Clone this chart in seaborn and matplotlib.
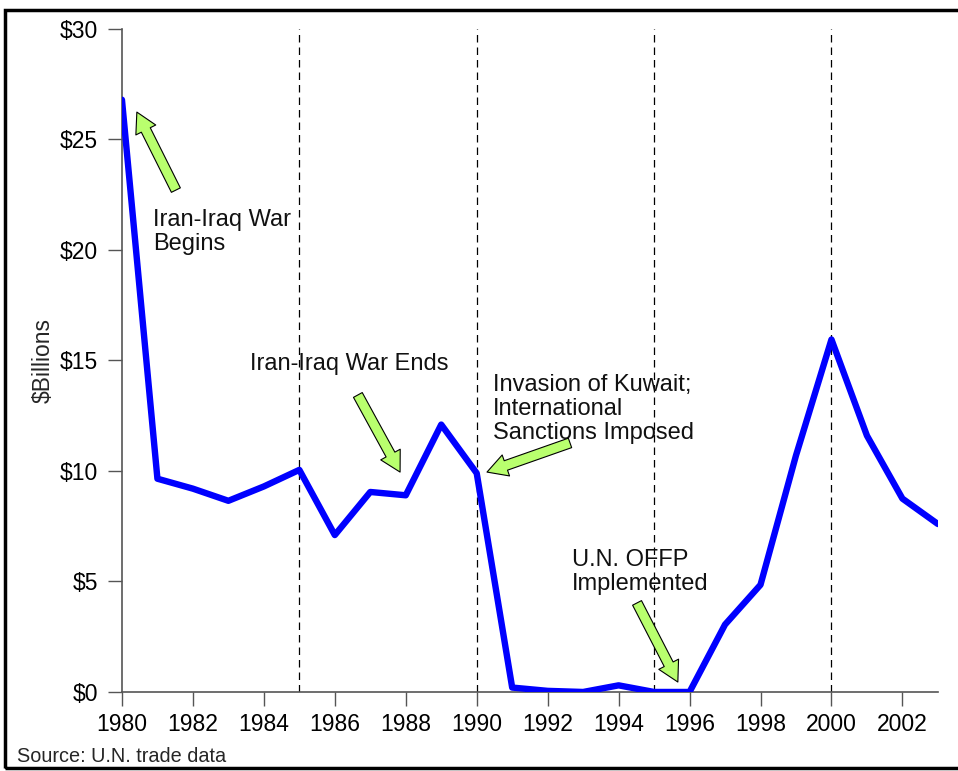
import numpy as np
import pandas as pd
import matplotlib
matplotlib.use("Agg")
import matplotlib.pyplot as plt
from matplotlib.patches import Rectangle
import seaborn as sns

# values ($ billions)
years = list(range(1980, 2004))
values = [26.8, 9.65, 9.2, 8.65, 9.3, 10.05, 7.1, 9.05, 8.9, 12.1, 9.9,
          0.2, 0.05, 0.0, 0.3, 0.0, 0.0, 3.05, 4.85, 10.7, 15.95, 11.6, 8.75, 7.6]
event_years = [1985, 1990, 1995, 2000]
year_ticks = list(range(1980, 2004, 2))
dollar_ticks = [0, 5, 10, 15, 20, 25, 30]

df = pd.DataFrame({"year": years, "value": values})

sns.set_style("white")
plt.rcParams["font.family"] = ["Liberation Sans", "DejaVu Sans"]

fig = plt.figure(figsize=(9.58, 7.71), dpi=100)
ax = fig.add_axes([0.1273, 0.1025, 0.979 - 0.1273, 0.9624 - 0.1025])

for yr in event_years:
    ax.axvline(yr, color="black", lw=0.9, ls=(0, (6, 4)), zorder=1)

sns.lineplot(data=df, x="year", y="value", color="#0000FF", lw=4.6, ax=ax, zorder=3)

ax.set_xlim(1980, 2003)
ax.set_ylim(0, 30)
ax.set_xticks(year_ticks)
ax.set_xticklabels([str(y) for y in year_ticks])
ax.set_yticks(dollar_ticks)
ax.set_yticklabels(["$%d" % v for v in dollar_ticks])
ax.tick_params(axis="both", labelsize=16.5, labelcolor="black", color="#555555",
               direction="out", length=10, width=1, bottom=True, left=True)
ax.tick_params(axis="x", pad=5)
ax.tick_params(axis="y", pad=7)
ax.set_xlabel("")
ax.set_ylabel("$Billions", fontsize=16.5, labelpad=4)

for s in ["top", "right"]:
    ax.spines[s].set_visible(False)
for s in ["left", "bottom"]:
    ax.spines[s].set_color("#555555")
    ax.spines[s].set_linewidth(1.2)

arrow = dict(arrowstyle="simple,head_length=0.9,head_width=1.0,tail_width=0.45",
             mutation_scale=16, shrinkA=0, shrinkB=0,
             fc="#B9FF6E", ec="black", lw=0.8)

notes = [
    ("Iran-Iraq War\nBegins", (1980.87, 21.85), (1980.42, 26.24), (1981.52, 22.71)),
    ("Iran-Iraq War Ends", (1983.61, 15.35), (1987.84, 9.95), (1986.65, 13.44)),
    ("Invasion of Kuwait;\nInternational\nSanctions Imposed", (1990.46, 14.4), (1990.29, 9.95), (1992.63, 11.27)),
    ("U.N. OFFP\nImplemented", (1992.68, 6.45), (1995.67, 0.45), (1994.52, 4.03)),
]
for text, tpos, head, tail in notes:
    ax.text(tpos[0], tpos[1], text, fontsize=17, va="top", ha="left",
            linespacing=1.12, color="#111111", zorder=4)
    ax.annotate("", xy=head, xytext=tail, arrowprops=arrow, zorder=4)

fig.text(17 / 958, 1 - 757 / 771, "Source: U.N. trade data", fontsize=14.3,
         va="center", ha="left")

fig.patches.append(Rectangle((5 / 958, 1 - 768 / 771), 1.0, (768 - 10) / 771,
                             transform=fig.transFigure, fill=False,
                             ec="black", lw=2.5, clip_on=False))

fig.savefig("out.png", dpi=100)
